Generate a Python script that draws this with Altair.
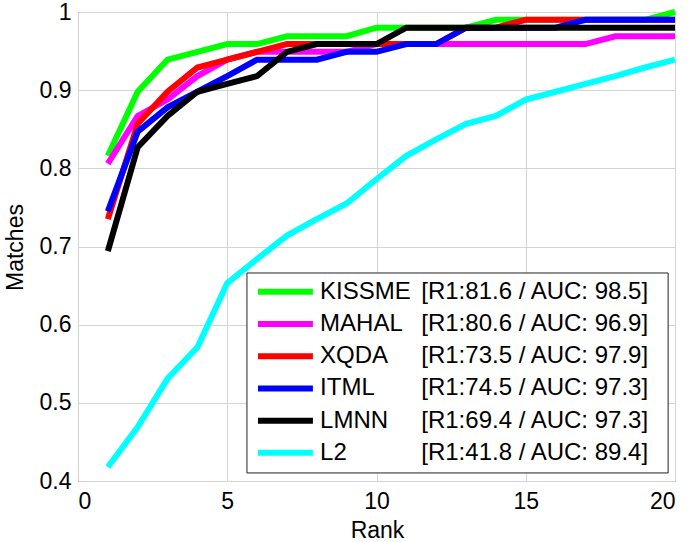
import altair as alt
import pandas as pd

ranks = list(range(1, 21))
names = ["KISSME", "MAHAL", "XQDA", "ITML", "LMNN", "L2"]
stats = ["[R1:81.6 / AUC: 98.5]", "[R1:80.6 / AUC: 96.9]", "[R1:73.5 / AUC: 97.9]",
         "[R1:74.5 / AUC: 97.3]", "[R1:69.4 / AUC: 97.3]", "[R1:41.8 / AUC: 89.4]"]
colors = ["#00ff00", "#ff00ff", "#ff0000", "#0000ff", "#000000", "#00ffff"]

kissme = [0.816, 0.898, 0.939, 0.949, 0.959, 0.959, 0.969, 0.969, 0.969, 0.980,
          0.980, 0.980, 0.980, 0.990, 0.990, 0.990, 0.990, 0.990, 0.990, 1.000]
mahal = [0.806, 0.867, 0.888, 0.918, 0.939, 0.949, 0.949, 0.949, 0.949, 0.959,
         0.959, 0.959, 0.959, 0.959, 0.959, 0.959, 0.959, 0.969, 0.969, 0.969]
xqda = [0.735, 0.857, 0.898, 0.929, 0.939, 0.949, 0.959, 0.959, 0.959, 0.959,
        0.959, 0.959, 0.980, 0.980, 0.990, 0.990, 0.990, 0.990, 0.990, 0.990]
itml = [0.745, 0.847, 0.878, 0.898, 0.918, 0.939, 0.939, 0.939, 0.949, 0.949,
        0.959, 0.959, 0.980, 0.980, 0.980, 0.980, 0.990, 0.990, 0.990, 0.990]
lmnn = [0.694, 0.827, 0.867, 0.898, 0.908, 0.918, 0.949, 0.959, 0.959, 0.959,
        0.980, 0.980, 0.980, 0.980, 0.980, 0.980, 0.980, 0.980, 0.980, 0.980]
l2 = [0.418, 0.469, 0.531, 0.571, 0.653, 0.684, 0.714, 0.735, 0.755, 0.786,
      0.816, 0.837, 0.857, 0.867, 0.888, 0.898, 0.908, 0.918, 0.929, 0.939]

series = [kissme, mahal, xqda, itml, lmnn, l2]

x_ticks = [0, 5, 10, 15, 20]
y_ticks = [0.4, 0.5, 0.6, 0.7, 0.8, 0.9, 1.0]

FONT = "Liberation Sans"

rows = []
for n, vals in zip(names, series):
    for r, v in zip(ranks, vals):
        rows.append({"method": n, "rank": r, "match": v})
df = pd.DataFrame(rows)

xscale = alt.Scale(domain=[0, 20], nice=False, zero=False)
yscale = alt.Scale(domain=[0.4, 1.0], nice=False, zero=False)

x_axis = alt.Axis(values=x_ticks, format="d", title="Rank", grid=True, domain=False,
                  ticks=False, tickSize=0, labelPadding=9, labelFont=FONT, labelFontSize=23,
                  labelColor="black", titleFont=FONT, titleFontSize=23, titleFontWeight="normal",
                  titleColor="black", titleX=299, titleY=56, titleBaseline="alphabetic",
                  titleAlign="center", gridColor="#d4d4d4", gridWidth=1)
y_axis = alt.Axis(values=y_ticks, labelExpr="datum.value == 1 ? '1' : format(datum.value, '.1f')",
                  title="Matches", grid=True, domain=False, ticks=False, tickSize=0,
                  labelPadding=7, labelFont=FONT, labelFontSize=23, labelColor="black",
                  titleFont=FONT, titleFontSize=23, titleFontWeight="normal", titleColor="black",
                  titleX=-63, titleY=235, titleAngle=270, titleBaseline="middle",
                  titleAlign="center", gridColor="#d4d4d4", gridWidth=1)

layers = []
for n, c in zip(names, colors):
    layers.append(
        alt.Chart(df).transform_filter(alt.datum.method == n).mark_line(
            color=c, strokeWidth=6, strokeCap="butt", strokeJoin="miter"
        ).encode(
            x=alt.X("rank:Q", scale=xscale, axis=x_axis),
            y=alt.Y("match:Q", scale=yscale, axis=y_axis),
        )
    )

# legend box
box_df = pd.DataFrame({"k": [0]})
box = alt.Chart(box_df).transform_calculate(
    bx1="5.66", bx2="19.77", by1="0.4103", by2="0.6661"
).mark_rect(fill="white", stroke="#222222", strokeWidth=1).encode(
    x=alt.X("bx1:Q", scale=xscale, axis=x_axis),
    x2="bx2:Q",
    y=alt.Y("by1:Q", scale=yscale, axis=y_axis),
    y2="by2:Q",
)

leg_df = pd.DataFrame({"name": names, "stat": stats, "color": colors, "i": list(range(6))})
leg_base = alt.Chart(leg_df).transform_calculate(
    ly="0.642 - datum.i * 0.0412", sx1="6.03", sx2="7.87", tx="8.11", sx="11.5"
)
sym = leg_base.mark_rule(strokeWidth=6, strokeCap="butt").encode(
    x=alt.X("sx1:Q", scale=xscale, axis=x_axis),
    x2="sx2:Q",
    y=alt.Y("ly:Q", scale=yscale, axis=y_axis),
    color=alt.Color("color:N", scale=None),
)
txt1 = leg_base.mark_text(align="left", baseline="middle", font=FONT, fontSize=24,
                          color="black").encode(
    x=alt.X("tx:Q", scale=xscale, axis=x_axis),
    y=alt.Y("ly:Q", scale=yscale, axis=y_axis),
    text="name:N",
)
txt2 = leg_base.mark_text(align="left", baseline="middle", font=FONT, fontSize=24,
                          color="black").encode(
    x=alt.X("sx:Q", scale=xscale, axis=x_axis),
    y=alt.Y("ly:Q", scale=yscale, axis=y_axis),
    text="stat:N",
)

chart = alt.layer(*layers, box, sym, txt1, txt2).properties(
    width=597, height=469,
    autosize=alt.AutoSizeParams(type="none"),
    padding={"left": 78, "top": 12, "right": 18, "bottom": 61},
    background="white",
).configure_view(stroke="#3a3a3a", strokeWidth=1)

chart.save("out.html", embed_options={"renderer": "svg", "actions": False})
